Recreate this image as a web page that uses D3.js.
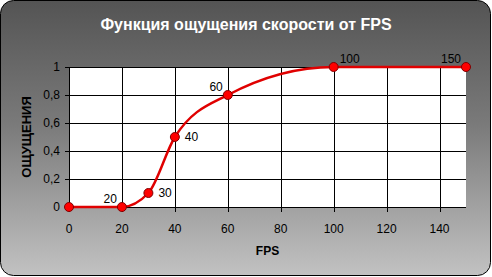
<!DOCTYPE html>
<html>
<head>
<meta charset="utf-8">
<script src="https://cdn.jsdelivr.net/npm/d3@7"></script>
<style>
  html, body { margin: 0; padding: 0; background: #fff; }
</style>
</head>
<body>
<div id="chart"></div>
<script>
(function () {

    // Данные графика
    const fps = [0, 20, 30, 40, 60, 100, 150];
    const feel = [0, 0, 0.1, 0.5, 0.8, 1, 1];
    const pointLabels = ["", "20", "30", "40", "60", "100", "150"];
    const xTicks = [0, 20, 40, 60, 80, 100, 120, 140];
    const yTicks = [0, 0.2, 0.4, 0.6, 0.8, 1];

    const title = "Функция ощущения скорости от FPS";
    const xTitle = "FPS";
    const yTitle = "ОЩУЩЕНИЯ";

    const W = 492, H = 277;
    const left = 69, right = 466, top = 67, bottom = 207;

    const svg = d3.select("#chart")
        .append("svg")
        .attr("width", W)
        .attr("height", H)
        .style("font-family", "Arial, 'Liberation Sans', sans-serif");

    // Фон с градиентом
    const grad = svg.append("defs").append("linearGradient")
        .attr("id", "bg")
        .attr("x1", 0).attr("y1", 0)
        .attr("x2", 0).attr("y2", 1);
    grad.append("stop").attr("offset", "0%").attr("stop-color", "#545454");
    grad.append("stop").attr("offset", "45%").attr("stop-color", "#7a7a7a");
    grad.append("stop").attr("offset", "100%").attr("stop-color", "#c2c2c2");

    svg.append("rect")
        .attr("x", 0.5).attr("y", 0.5)
        .attr("width", W - 2).attr("height", H - 2)
        .attr("rx", 13).attr("ry", 13)
        .attr("fill", "url(#bg)")
        .attr("stroke", "#000")
        .attr("stroke-width", 1);

    const x = d3.scaleLinear().domain([0, 150]).range([left, right]);
    const y = d3.scaleLinear().domain([0, 1]).range([bottom, top]);

    // Область построения
    svg.append("rect")
        .attr("x", left).attr("y", top)
        .attr("width", right - left).attr("height", bottom - top)
        .attr("fill", "#fff");

    // Сетка
    svg.append("g")
        .selectAll("line")
        .data(yTicks)
        .join("line")
        .attr("x1", left - 4).attr("x2", right)
        .attr("y1", d => Math.round(y(d)) + 0.5)
        .attr("y2", d => Math.round(y(d)) + 0.5)
        .attr("stroke", "#000");

    svg.append("g")
        .selectAll("line")
        .data(xTicks)
        .join("line")
        .attr("x1", d => Math.round(x(d)) + 0.5)
        .attr("x2", d => Math.round(x(d)) + 0.5)
        .attr("y1", top).attr("y2", bottom + 5)
        .attr("stroke", "#000");

    // Подписи осей
    svg.append("g")
        .selectAll("text")
        .data(yTicks)
        .join("text")
        .attr("x", left - 9)
        .attr("y", d => y(d) + 4)
        .attr("text-anchor", "end")
        .attr("font-size", 12)
        .text(d => d3.format(".1~f")(d).replace(".", ","));

    svg.append("g")
        .selectAll("text")
        .data(xTicks)
        .join("text")
        .attr("x", d => x(d))
        .attr("y", bottom + 26)
        .attr("text-anchor", "middle")
        .attr("font-size", 12)
        .text(d => d);

    // Заголовки
    svg.append("text")
        .attr("x", W / 2).attr("y", 30)
        .attr("text-anchor", "middle")
        .attr("font-size", 16)
        .attr("font-weight", "bold")
        .attr("fill", "#fff")
        .text(title);

    svg.append("text")
        .attr("x", (left + right) / 2).attr("y", 255)
        .attr("text-anchor", "middle")
        .attr("font-size", 12)
        .attr("font-weight", "bold")
        .text(xTitle);

    svg.append("text")
        .attr("transform", `translate(31, ${(top + bottom) / 2}) rotate(-90)`)
        .attr("text-anchor", "middle")
        .attr("font-size", 13)
        .attr("font-weight", "bold")
        .text(yTitle);

    // Линия
    const pts = fps.map((f, i) => [f, feel[i]]);
    const line = d3.line()
        .x(d => x(d[0]))
        .y(d => y(d[1]))
        .curve(d3.curveMonotoneX);

    svg.append("path")
        .datum(pts)
        .attr("d", line)
        .attr("fill", "none")
        .attr("stroke", "#e00000")
        .attr("stroke-width", 2.5);

    svg.append("g")
        .selectAll("circle")
        .data(pts)
        .join("circle")
        .attr("cx", d => x(d[0]))
        .attr("cy", d => y(d[1]))
        .attr("r", 4.5)
        .attr("fill", "#ff0000")
        .attr("stroke", "#800000")
        .attr("stroke-width", 1);

    // Подписи точек (справа или слева сверху)
    const labelSide = ["", "ul", "r", "r", "ul", "ur", "ul"];
    svg.append("g")
        .selectAll("text")
        .data(pts)
        .join("text")
        .attr("x", (d, i) => labelSide[i] === "r" ? x(d[0]) + 10 : labelSide[i] === "ur" ? x(d[0]) + 6 : x(d[0]) - 5)
        .attr("y", (d, i) => labelSide[i] === "r" ? y(d[1]) + 4 : y(d[1]) - 4)
        .attr("text-anchor", (d, i) => labelSide[i] === "ul" ? "end" : "start")
        .attr("font-size", 12)
        .text((d, i) => pointLabels[i]);
})();
</script>
</body>
</html>
